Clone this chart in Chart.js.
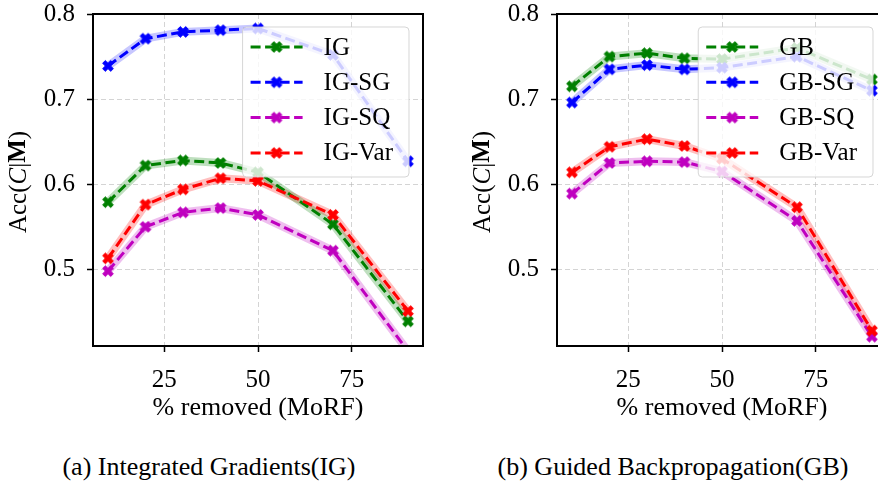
<!DOCTYPE html>
<html>
<head>
<meta charset="utf-8">
<script src="https://cdn.jsdelivr.net/npm/chart.js@4.4.1/dist/chart.umd.min.js"></script>
<style>
  html, body { margin: 0; padding: 0; background: #fff; overflow: hidden; }
  #page { position: relative; width: 878px; height: 482px; overflow: hidden; }
  canvas { position: absolute; top: 0; }
  .caption {
    position: absolute; top: 450px; transform: translateX(-50%);
    font: 26px 'Liberation Serif', serif; line-height: 34px; white-space: nowrap; color: #000;
  }
</style>
</head>
<body>
<div id="page">
  <canvas id="igChart" width="440" height="440" style="left:0"></canvas>
  <canvas id="gbChart" width="440" height="440" style="left:464px"></canvas>
  <div class="caption" style="left:209px">(a) Integrated Gradients(IG)</div>
  <div class="caption" style="left:673px">(b) Guided Backpropagation(GB)</div>
</div>
<script>
// values
const removedPct = [10, 20, 30, 40, 50, 70, 90];
const xTicks = [25, 50, 75];
const yTicks = [0.5, 0.6, 0.7, 0.8];
const xTitle = '% removed (MoRF)';
const yTitleParts = [['Acc(', ''], ['C', 'italic '], ['|', ''], ['M', 'bold '], [')', '']];

const igLabels = ['IG', 'IG-SG', 'IG-SQ', 'IG-Var'];
const igAcc = [0.579, 0.622, 0.628, 0.625, 0.614, 0.553, 0.439];
const igSgAcc = [0.739, 0.771, 0.779, 0.781, 0.783, 0.752, 0.627];
const igSqAcc = [0.498, 0.550, 0.567, 0.572, 0.564, 0.522, 0.404];
const igVarAcc = [0.513, 0.576, 0.594, 0.607, 0.604, 0.564, 0.451];

const gbLabels = ['GB', 'GB-SG', 'GB-SQ', 'GB-Var'];
const gbAcc = [0.715, 0.750, 0.754, 0.748, 0.747, 0.760, 0.723];
const gbSgAcc = [0.696, 0.735, 0.740, 0.735, 0.737, 0.750, 0.710];
const gbSqAcc = [0.589, 0.625, 0.627, 0.626, 0.615, 0.557, 0.421];
const gbVarAcc = [0.614, 0.644, 0.653, 0.645, 0.630, 0.573, 0.428];

const seriesColors = ['#008000', '#0000ff', '#bf00bf', '#ff0000'];
const bandColors = ['rgba(0,128,0,0.25)', 'rgba(0,0,255,0.22)', 'rgba(191,0,191,0.25)', 'rgba(255,0,0,0.25)'];
const FONT = "'Liberation Serif', serif";

// filled "X" marker like matplotlib's
function makeMarker(color) {
    const size = 11.5;
    const c = document.createElement('canvas');
    c.width = 16;
    c.height = 16;
    const ctx = c.getContext('2d');
    const a = size / 6;
    const b = size / 2;
    const pts = [[-a, -b], [a, -b], [a, -a], [b, -a], [b, a], [a, a], [a, b], [-a, b], [-a, a], [-b, a], [-b, -a], [-a, -a]];
    ctx.translate(8, 8);
    ctx.rotate(Math.PI / 4);
    ctx.beginPath();
    pts.forEach(([x, y], i) => (i ? ctx.lineTo(x, y) : ctx.moveTo(x, y)));
    ctx.closePath();
    ctx.fillStyle = color;
    ctx.strokeStyle = color;
    ctx.lineWidth = 0.8;
    ctx.fill();
    ctx.stroke();
    return c;
}

const markers = seriesColors.map(makeMarker);

function buildDatasets(labels, seriesList) {
    const points = vals => removedPct.map((x, j) => ({x, y: vals[j]}));
    const bands = seriesList.map((vals, i) => ({
        data: points(vals),
        borderColor: bandColors[i],
        borderWidth: 8,
        borderJoinStyle: 'round',
        pointRadius: 0,
        clip: 0,
        order: 10,
    }));
    const lines = seriesList.map((vals, i) => ({
        label: labels[i],
        inLegend: true,
        data: points(vals),
        borderColor: seriesColors[i],
        backgroundColor: seriesColors[i],
        borderWidth: 3,
        borderDash: [10, 4.5],
        borderJoinStyle: 'round',
        pointStyle: markers[i],
        pointRadius: 6,
        clip: 0,
        order: 4 - i,
    }));
    return bands.concat(lines);
}

function drawLegend(chart) {
    const {ctx, chartArea: area} = chart;
    const items = chart.data.datasets.filter(d => d.inLegend);
    ctx.save();
    ctx.font = '25px ' + FONT;
    const textW = Math.max(...items.map(d => ctx.measureText(d.label).width));
    const w = 10 + 52 + 21 + textW + 14;
    const h = 150;
    const right = area.right - 14;
    const top = area.top + 13;
    const left = right - w;

    ctx.beginPath();
    ctx.roundRect(left, top, w, h, 4);
    ctx.fillStyle = 'rgba(255,255,255,0.8)';
    ctx.fill();
    ctx.strokeStyle = 'rgba(204,204,204,0.8)';
    ctx.lineWidth = 1;
    ctx.stroke();

    items.forEach((d, i) => {
        const cy = top + 20 + i * 35.3;
        ctx.beginPath();
        ctx.setLineDash(d.borderDash);
        ctx.strokeStyle = d.borderColor;
        ctx.lineWidth = d.borderWidth;
        ctx.moveTo(left + 8, cy);
        ctx.lineTo(left + 60, cy);
        ctx.stroke();
        ctx.setLineDash([]);
        ctx.drawImage(d.pointStyle, left + 34 - d.pointStyle.width / 2, cy - d.pointStyle.height / 2);
        ctx.fillStyle = '#000';
        ctx.textBaseline = 'middle';
        ctx.fillText(d.label, left + 81, cy + 1);
    });
    ctx.restore();
}

function drawYTitle(chart) {
    const {ctx, chartArea: area} = chart;
    ctx.save();
    ctx.translate(19, (area.top + area.bottom) / 2 + 2);
    ctx.rotate(-Math.PI / 2);
    ctx.textBaseline = 'middle';
    ctx.fillStyle = '#000';
    let total = 0;
    yTitleParts.forEach(([t, style]) => {
        ctx.font = style + '25px ' + FONT;
        total += ctx.measureText(t).width;
    });
    let x = -total / 2;
    yTitleParts.forEach(([t, style]) => {
        ctx.font = style + '25px ' + FONT;
        ctx.fillText(t, x, 0);
        x += ctx.measureText(t).width;
    });
    ctx.restore();
}

const framePlugin = {
    id: 'frame',
    afterDatasetsDraw(chart) {
        drawLegend(chart);
    },
    afterDraw(chart) {
        const {ctx, chartArea: a} = chart;
        ctx.save();
        ctx.strokeStyle = '#000';
        ctx.lineWidth = 2;
        ctx.strokeRect(a.left, a.top, a.right - a.left, a.bottom - a.top);
        ctx.restore();
        drawYTitle(chart);
    },
};

function makeChart(canvasId, labels, seriesList) {
    const gridColor = 'rgba(176,176,176,0.55)';
    return new Chart(document.getElementById(canvasId), {
        type: 'line',
        data: {datasets: buildDatasets(labels, seriesList)},
        plugins: [framePlugin],
        options: {
            responsive: false,
            animation: false,
            events: [],
            layout: {padding: {top: 14, right: 17, bottom: 16, left: 0}},
            plugins: {
                legend: {display: false},
                tooltip: {enabled: false},
            },
            scales: {
                x: {
                    type: 'linear',
                    min: 6,
                    max: 94,
                    afterBuildTicks: s => { s.ticks = xTicks.map(v => ({value: v})); },
                    afterFit: s => { s.height = 78; s.paddingLeft = 0; s.paddingRight = 0; },
                    grid: {color: gridColor, lineWidth: 1, tickLength: 6, tickColor: '#000', tickWidth: 1.5},
                    border: {display: false, dash: [5, 3]},
                    ticks: {padding: 13, color: '#000', maxRotation: 0, font: {family: FONT, size: 25}, callback: v => String(v)},
                    title: {display: true, text: xTitle, color: '#000', padding: 0, font: {family: FONT, size: 26}},
                },
                y: {
                    min: 0.41,
                    max: 0.8,
                    afterBuildTicks: s => { s.ticks = yTicks.map(v => ({value: v})); },
                    afterFit: s => { s.width = 93; s.paddingTop = 0; s.paddingBottom = 0; },
                    grid: {color: gridColor, lineWidth: 1, tickLength: 6, tickColor: '#000', tickWidth: 1.5},
                    border: {display: false, dash: [5, 3]},
                    ticks: {padding: 12, color: '#000', font: {family: FONT, size: 25}, callback: v => v.toFixed(1)},
                },
            },
        },
    });
}

makeChart('igChart', igLabels, [igAcc, igSgAcc, igSqAcc, igVarAcc]);
makeChart('gbChart', gbLabels, [gbAcc, gbSgAcc, gbSqAcc, gbVarAcc]);
</script>
</body>
</html>
